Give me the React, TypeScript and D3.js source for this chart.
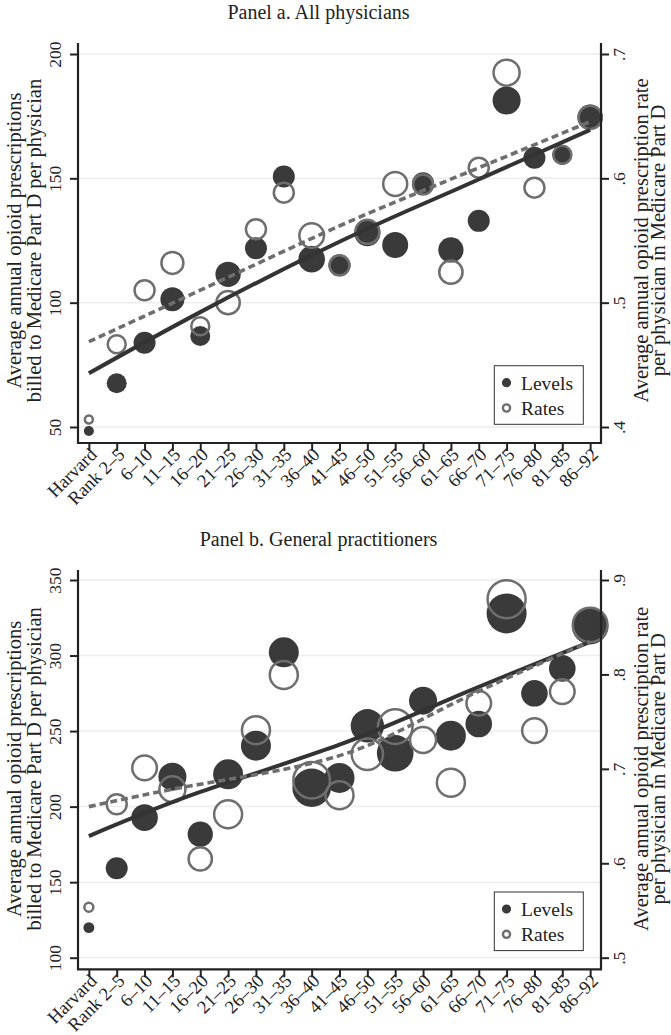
import React, { useEffect, useRef } from 'react';
import * as d3 from 'd3';

// medical school rank groups on the x axis
const categories = [
  'Harvard', 'Rank 2–5', '6–10', '11–15', '16–20', '21–25', '26–30', '31–35', '36–40',
  '41–45', '46–50', '51–55', '56–60', '61–65', '66–70', '71–75', '76–80', '81–85', '86–92',
];

// Panel a. All physicians
const levelsA = [48.4, 67.6, 83.9, 101.4, 86.6, 111.4, 121.9, 150.7, 117.5, 115.0, 127.9, 123.2, 148.0, 121.2, 132.9, 181.3, 158.3, 159.4, 174.6];
const ratesA = [0.406, 0.4665, 0.51, 0.532, 0.481, 0.5, 0.559, 0.5885, 0.554, 0.53, 0.557, 0.5955, 0.595, 0.5245, 0.6086, 0.685, 0.5925, 0.619, 0.649];
const weightsA = [25, 100, 121, 144, 100, 160, 121, 121, 177, 121, 169, 169, 121, 160, 121, 196, 121, 100, 160];
const levelFitA = [71.6, 96.2, 124.5, 144.6, 169.5];
const rateFitA = [0.4686, 0.51, 0.5617, 0.5993, 0.6456];

// Panel b. General practitioners
const levelsB = [119.9, 159.2, 192.7, 219.8, 181.7, 221.4, 240.3, 302.1, 212.5, 219.0, 253.5, 235.3, 270.1, 246.9, 254.7, 327.9, 275.0, 291.5, 319.5];
const ratesB = [0.5534, 0.6625, 0.701, 0.6784, 0.6046, 0.652, 0.741, 0.7995, 0.688, 0.672, 0.7155, 0.7447, 0.7306, 0.6854, 0.7695, 0.8797, 0.7405, 0.7818, 0.8524];
const weightsB = [30, 121, 177, 196, 160, 225, 225, 225, 372, 225, 278, 335, 196, 225, 177, 400, 177, 177, 335];
const levelFitB = [180.5, 209.7, 241, 271.5, 309];
const rateFitB = [0.66, 0.6837, 0.714, 0.768, 0.8347];

// category positions where the fitted lines were read
const fitIdx = [0, 4, 9, 13, 18];

const leftTicksA = [50, 100, 150, 200];
const rightTicksA = [0.4, 0.5, 0.6, 0.7];
const leftTicksB = [100, 150, 200, 250, 300, 350];
const rightTicksB = [0.5, 0.6, 0.7, 0.8, 0.9];

const leftTitle = ['Average annual opioid prescriptions', 'billed to Medicare Part D per physician'];
const rightTitle = ['Average annual opioid prescription rate', 'per physician in Medicare Part D'];
const legendLabels = ['Levels', 'Rates'];

const FONT = '"Liberation Serif", "Times New Roman", serif';
const DARK = '#3a3a3a';
const GRAY = '#6e6e6e';
const INK = '#222';

const panels = [
  {
    title: 'Panel a. All physicians', titleY: 18.5, top: 43, bottom: 443, yLo: 427, yHi: 54,
    levels: levelsA, rates: ratesA, weights: weightsA, maxR: 14,
    levelFit: levelFitA, rateFit: rateFitA,
    leftTicks: leftTicksA, rightTicks: rightTicksA,
  },
  {
    title: 'Panel b. General practitioners', titleY: 546, top: 570, bottom: 969.3, yLo: 957.7, yHi: 580,
    levels: levelsB, rates: ratesB, weights: weightsB, maxR: 20,
    levelFit: levelFitB, rateFit: rateFitB,
    leftTicks: leftTicksB, rightTicks: rightTicksB,
  },
];

const L = 78;
const R = 601;

function drawPanel(svg, p) {
  const g = svg.append('g').attr('font-family', FONT).attr('fill', INK);

  const x = d3.scalePoint().domain(categories).range([L, R]).padding(0.39);
  const lDom = d3.extent(p.leftTicks);
  const rDom = d3.extent(p.rightTicks);
  const yL = d3.scaleLinear().domain(lDom).range([p.yLo, p.yHi]);
  const yR = d3.scaleLinear().domain(rDom).range([p.yLo, p.yHi]);
  const rad = d3.scaleSqrt().domain([0, d3.max(p.weights)]).range([0, p.maxR]);

  g.append('text')
    .attr('x', 318.5)
    .attr('y', p.titleY)
    .attr('text-anchor', 'middle')
    .attr('font-size', 20)
    .text(p.title);

  // grid
  g.append('g')
    .selectAll('line')
    .data(p.leftTicks)
    .join('line')
    .attr('x1', L)
    .attr('x2', R)
    .attr('y1', (d) => yL(d))
    .attr('y2', (d) => yL(d))
    .attr('stroke', '#ededed')
    .attr('stroke-width', 1.5);

  // markers: levels first, rates on top
  g.append('g')
    .selectAll('circle')
    .data(p.levels)
    .join('circle')
    .attr('cx', (d, i) => x(categories[i]))
    .attr('cy', (d) => yL(d))
    .attr('r', (d, i) => rad(p.weights[i]))
    .attr('fill', DARK);

  g.append('g')
    .selectAll('circle')
    .data(p.rates)
    .join('circle')
    .attr('cx', (d, i) => x(categories[i]))
    .attr('cy', (d) => yR(d))
    .attr('r', (d, i) => rad(p.weights[i]) - 1)
    .attr('fill', 'none')
    .attr('stroke', GRAY)
    .attr('stroke-width', 2.5);

  const fitLine = (scale) =>
    d3
      .line()
      .x((d, i) => x(categories[fitIdx[i]]))
      .y((d) => scale(d))
      .curve(d3.curveNatural);

  g.append('path')
    .datum(p.levelFit)
    .attr('fill', 'none')
    .attr('stroke', '#333')
    .attr('stroke-width', 4)
    .attr('d', fitLine(yL));

  g.append('path')
    .datum(p.rateFit)
    .attr('fill', 'none')
    .attr('stroke', GRAY)
    .attr('stroke-width', 3.6)
    .attr('stroke-dasharray', '7,4')
    .attr('d', fitLine(yR));

  // axes
  const yAxisL = d3.axisLeft(yL).tickValues(p.leftTicks).tickSize(8).tickPadding(0);
  const gl = g.append('g').attr('transform', `translate(${L},0)`).call(yAxisL);
  gl.select('.domain').remove();
  gl.selectAll('text')
    .attr('x', null)
    .attr('dy', null)
    .attr('text-anchor', 'middle')
    .attr('transform', 'translate(-17,0) rotate(-90)')
    .attr('font-size', 17.5);

  const fmtR = (d) => d3.format('.1f')(d).replace(/^0/, '');
  const yAxisR = d3.axisRight(yR).tickValues(p.rightTicks).tickSize(8).tickFormat(fmtR);
  const gr = g.append('g').attr('transform', `translate(${R},0)`).call(yAxisR);
  gr.select('.domain').remove();
  gr.selectAll('text')
    .attr('x', null)
    .attr('dy', null)
    .attr('text-anchor', 'middle')
    .attr('transform', 'translate(24,0) rotate(-90)')
    .attr('font-size', 17.5);

  const xAxis = d3.axisBottom(x).tickSize(8);
  const gx = g.append('g').attr('transform', `translate(0,${p.bottom})`).call(xAxis);
  gx.select('.domain').remove();
  gx.selectAll('text')
    .attr('y', null)
    .attr('dy', '0.35em')
    .attr('text-anchor', 'end')
    .attr('transform', 'translate(4,8) rotate(-45)')
    .attr('font-size', 18.5);

  [gl, gr, gx].forEach((a) => {
    a.attr('font-family', FONT);
    a.selectAll('line').attr('stroke', INK).attr('stroke-width', 2);
    a.selectAll('text').attr('fill', INK);
  });

  // frame: left, bottom, right
  g.append('path')
    .attr('d', `M${L},${p.top}V${p.bottom}H${R}V${p.top}`)
    .attr('fill', 'none')
    .attr('stroke', INK)
    .attr('stroke-width', 2.2);

  // axis titles
  const cy = (p.yLo + p.yHi) / 2;
  const lt = g.append('text')
    .attr('transform', `translate(0,${cy}) rotate(-90)`)
    .attr('text-anchor', 'middle')
    .attr('font-size', 20.5);
  leftTitle.forEach((s, i) => lt.append('tspan').attr('x', 0).attr('y', 21 + i * 20).text(s));

  const rt = g.append('text')
    .attr('transform', `translate(0,${cy}) rotate(-90)`)
    .attr('text-anchor', 'middle')
    .attr('font-size', 20.5);
  rightTitle.forEach((s, i) => rt.append('tspan').attr('x', 0).attr('y', 648 + i * 17).text(s));

  // legend
  const lx = 494.3;
  const ly = p.bottom - 77.3;
  const lg = g.append('g').attr('transform', `translate(${lx},${ly})`);
  lg.append('rect')
    .attr('width', 89)
    .attr('height', 58.6)
    .attr('fill', '#fff')
    .attr('stroke', '#333')
    .attr('stroke-width', 1);
  lg.append('circle').attr('cx', 12.2).attr('cy', 17).attr('r', 4.6).attr('fill', DARK);
  lg.append('circle')
    .attr('cx', 12.2)
    .attr('cy', 42.3)
    .attr('r', 3.6)
    .attr('fill', 'none')
    .attr('stroke', GRAY)
    .attr('stroke-width', 2.4);
  legendLabels.forEach((s, i) =>
    lg.append('text').attr('x', 26.7).attr('y', 24.4 + i * 24.6).attr('font-size', 19.5).text(s)
  );
}

export default function App() {
  const ref = useRef(null);

  useEffect(() => {
    const svg = d3.select(ref.current);
    svg.selectAll('*').remove();
    panels.forEach((p) => drawPanel(svg, p));
  }, []);

  return (
    <svg
      ref={ref}
      width={671}
      height={1035}
      viewBox="0 0 671 1035"
      style={{ position: 'absolute', left: 0, top: 0, background: '#fff', display: 'block' }}
    />
  );
}
